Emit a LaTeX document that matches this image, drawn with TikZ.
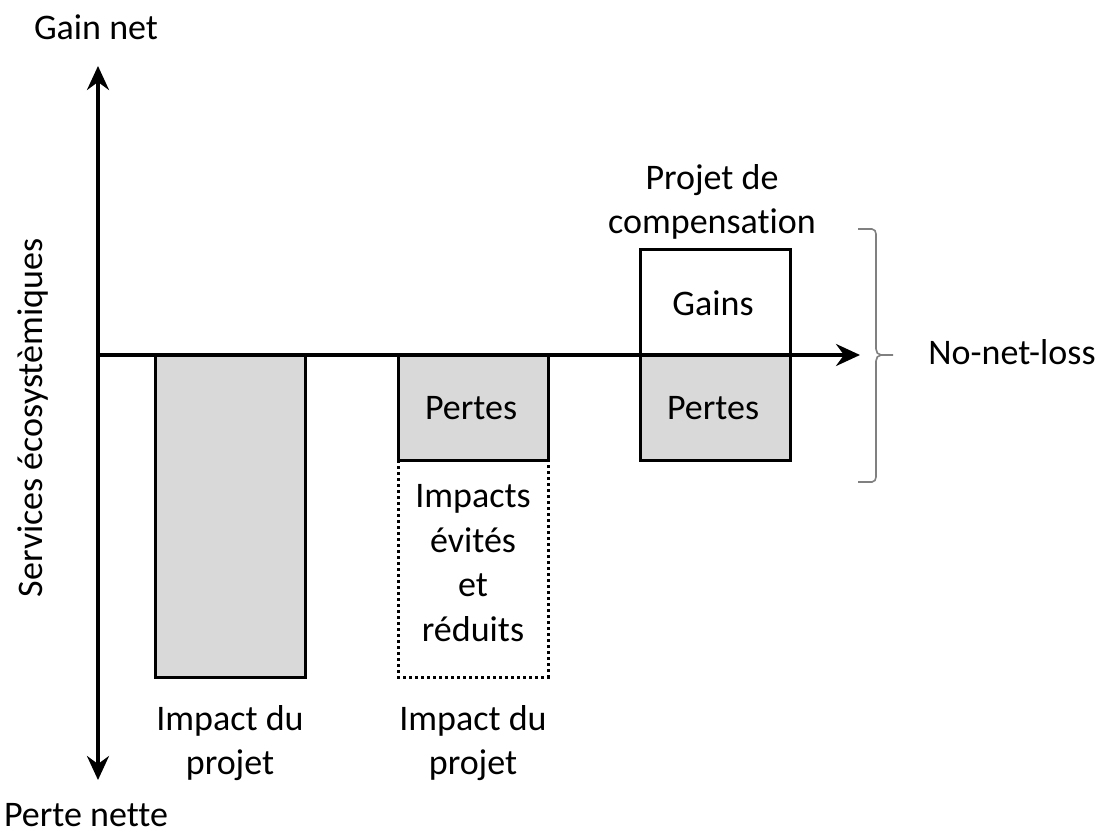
\documentclass[tikz,border=0pt]{standalone}
\usepackage{fontspec}
\setmainfont[Ligatures={NoCommon}]{Carlito}
\usetikzlibrary{arrows.meta}
\definecolor{boxgray}{RGB}{217,217,217}
\definecolor{bracegray}{RGB}{128,128,128}
\begin{document}
\begin{tikzpicture}[x=1pt,y=-1pt,
  every node/.style={font=\fontsize{36}{44.5}\selectfont, align=center, inner sep=0pt},
  axis/.style={line width=3.5pt, -{Stealth[length=24pt,width=22pt,inset=8pt]}},
  barbox/.style={draw=black, line width=3pt, fill=boxgray},
  whitebox/.style={draw=black, line width=3pt, fill=white},
  dotbox/.style={draw=black, line width=3pt, dash pattern=on 3pt off 3pt}]
\useasboundingbox (0,0) rectangle (1105,834);
% axes
\coordinate (origin) at (98,355);
\coordinate (ytop) at (98,66);
\coordinate (ybot) at (98,780);
\coordinate (xend) at (860,355);
% boxes
\path[dotbox] (398,460) rectangle (548,677);
\path[barbox] (155,355) rectangle (305,677);
\path[barbox] (398,355) rectangle (548,460);
\path[whitebox] (640,250) rectangle (790,355);
\path[barbox] (640,355) rectangle (790,460);
\draw[axis] (origin) -- (ytop);
\draw[axis] (origin) -- (ybot);
\draw[axis] (origin) -- (xend);
% brace
\draw[bracegray, line width=1.6pt, line join=round]
  (858,229) -- (872,229) to[out=0,in=90] (876,234) -- (876,349)
  to[out=-90,in=180] (881,355) -- (893,355);
\draw[bracegray, line width=1.6pt]
  (858,482) -- (872,482) to[out=0,in=-90] (876,477) -- (876,361)
  to[out=90,in=180] (881,355);
% texts
\node (gain) at (96,27) {Gain net};
\node (perte) at (86,815) {Perte nette};
\node[rotate=90] (serv) at (33,418) {Services écosystèmiques};
\node (imp1) at (230,743) {Impact du\\projet};
\node (imp2) at (473,743) {Impact du\\projet};
\node (comp) at (712,202) {Projet de\\compensation};
\node (gains) at (713,303) {Gains};
\node (p2) at (471,408) {Pertes};
\node (p3) at (713,408) {Pertes};
\node (nnl) at (1012,352) {No-net-loss};
\node (evit) at (473,563) {Impacts\\évités\\et\\réduits};
\end{tikzpicture}
\end{document}
